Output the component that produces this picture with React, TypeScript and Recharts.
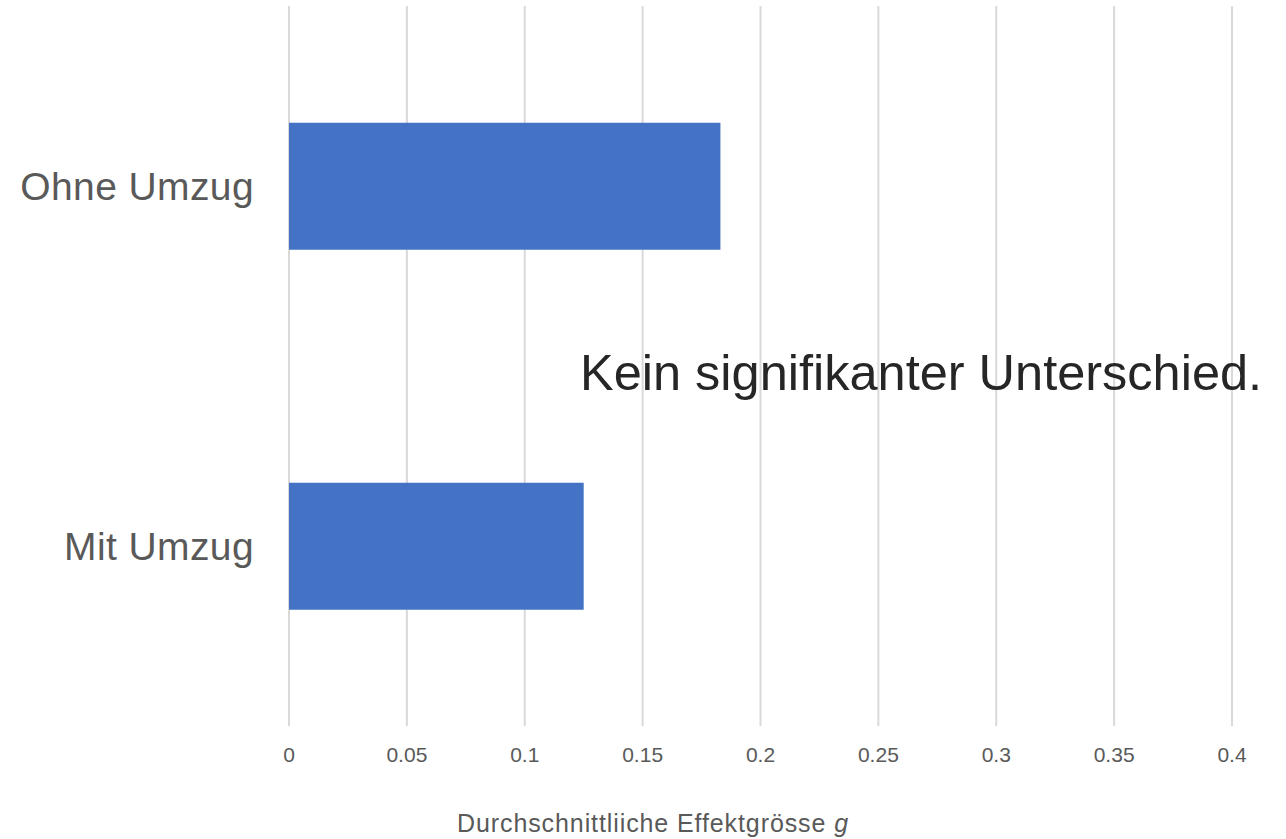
import React from 'react';
import { BarChart, Bar, XAxis, YAxis, CartesianGrid } from 'recharts';

const categories = ['Ohne Umzug', 'Mit Umzug'];
const effectValues = [0.183, 0.125];
const xTicks = [0, 0.05, 0.1, 0.15, 0.2, 0.25, 0.3, 0.35, 0.4];

const data = categories.map((name, i) => ({ name, value: effectValues[i] }));

const FONT = '"Liberation Sans", Arial, sans-serif';

const AxisTitle = () => (
  <text
    x={653}
    y={832}
    textAnchor="middle"
    fontFamily={FONT}
    fontSize={25}
    letterSpacing={0.9}
    fill="#595959"
  >
    Durchschnittliiche Effektgrösse <tspan fontStyle="italic">g</tspan>
  </text>
);

const App = () => {
  return (
    <div style={{ position: 'absolute', left: 0, top: 0 }}>
      <BarChart
        width={1286}
        height={839}
        data={data}
        layout="vertical"
        margin={{ top: 6, right: 54, bottom: 0, left: 0 }}
        barCategoryGap="32.4%"
      >
        <CartesianGrid horizontal={false} stroke="#d9d9d9" strokeWidth={2} />
        <XAxis
          type="number"
          domain={[0, 0.4]}
          ticks={xTicks}
          axisLine={false}
          tickLine={false}
          tickSize={0}
          tickMargin={21}
          height={113}
          tick={{ fontSize: 21, fill: '#595959', fontFamily: FONT }}
        />
        <YAxis
          type="category"
          dataKey="name"
          width={289}
          axisLine={false}
          tickLine={false}
          tickSize={0}
          tickMargin={35}
          tick={{ fontSize: 39, fill: '#595959', fontFamily: FONT, letterSpacing: 0.4 }}
        />
        <Bar dataKey="value" fill="#4472c4" isAnimationActive={false} />
        <text x={580} y={390} fontFamily={FONT} fontSize={50.5} fill="#262626">
          Kein signifikanter Unterschied.
        </text>
        <AxisTitle />
      </BarChart>
    </div>
  );
};

export default App;
